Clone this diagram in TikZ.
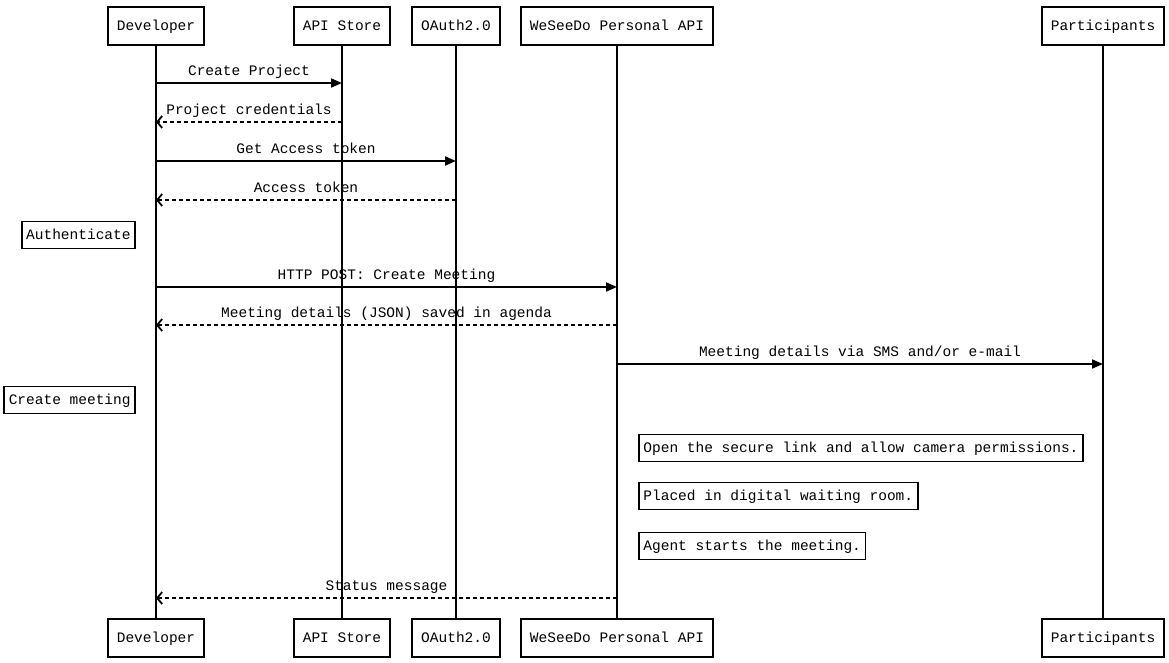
\documentclass[tikz,border=0pt]{standalone}
\usepackage{fontspec}
\setmainfont{Liberation Mono}
\usetikzlibrary{arrows.meta, positioning}

\begin{document}
\begin{tikzpicture}[
  x=1pt, y=-1pt,
  font=\fontsize{14.5}{17}\selectfont,
  actor/.style={draw, line width=1.8pt, fill=white, minimum height=38pt, inner xsep=9pt, text height=12pt, text depth=2.4pt},
  note/.style={draw, line width=1.8pt, fill=white, minimum height=27pt, inner xsep=4.5pt, text height=12pt, text depth=2.4pt},
  life/.style={line width=1.8pt},
  msg/.style={-{Triangle[length=11pt, width=9pt]}, line width=1.8pt},
  reply/.style={-{Straight Barb[length=5pt, width=12pt]}, line width=1.8pt, dash pattern=on 4pt off 3pt},
  lbl/.style={above=1pt, text height=12pt, text depth=2.4pt}
]
\useasboundingbox (0,0) rectangle (1169,662);

% heads and feet
\node[actor] (devT) at (156,26) {Developer};
\node[actor] (apiT) at (342,26) {API Store};
\node[actor] (authT) at (456,26) {OAuth2.0};
\node[actor] (wsdT) at (617,26) {WeSeeDo Personal API};
\node[actor] (partT) at (1103,26) {Participants};

\node[actor] (devB) at (156,638) {Developer};
\node[actor] (apiB) at (342,638) {API Store};
\node[actor] (authB) at (456,638) {OAuth2.0};
\node[actor] (wsdB) at (617,638) {WeSeeDo Personal API};
\node[actor] (partB) at (1103,638) {Participants};

% lifelines
\draw[life] (devT) -- (devB);
\draw[life] (apiT) -- (apiB);
\draw[life] (authT) -- (authB);
\draw[life] (wsdT) -- (wsdB);
\draw[life] (partT) -- (partB);

% rows
\coordinate (r1) at (0,83);
\coordinate (r2) at (0,122);
\coordinate (r3) at (0,161);
\coordinate (r4) at (0,200);
\coordinate (r5) at (0,287);
\coordinate (r6) at (0,325);
\coordinate (r7) at (0,364);
\coordinate (r8) at (0,598);

\draw[msg] (devT |- r1) -- node[lbl] {Create Project} (apiT |- r1);
\draw[reply] (apiT |- r2) -- node[lbl] {Project credentials} (devT |- r2);
\draw[msg] (devT |- r3) -- node[lbl] {Get Access token} (authT |- r3);
\draw[reply] (authT |- r4) -- node[lbl] {Access token} (devT |- r4);

\node[note, anchor=east] (authn) at (136,235) {Authenticate};

\draw[msg] (devT |- r5) -- node[lbl] {HTTP POST: Create Meeting} (wsdT |- r5);
\draw[reply] (wsdT |- r6) -- node[lbl] {Meeting details (JSON) saved in agenda} (devT |- r6);
\draw[msg] (wsdT |- r7) -- node[lbl] {Meeting details via SMS and/or e-mail} (partT |- r7);

\node[note, anchor=east] (create) at (136,400) {Create meeting};

% notes on the right
\node[note, anchor=west] (open) at (638,448) {Open the secure link and allow camera permissions.};
\node[note, anchor=west] (wait) at (638,496) {Placed in digital waiting room.};
\node[note, anchor=west] (start) at (638,546) {Agent starts the meeting.};

\draw[reply] (wsdT |- r8) -- node[lbl] {Status message} (devT |- r8);
\end{tikzpicture}
\end{document}
